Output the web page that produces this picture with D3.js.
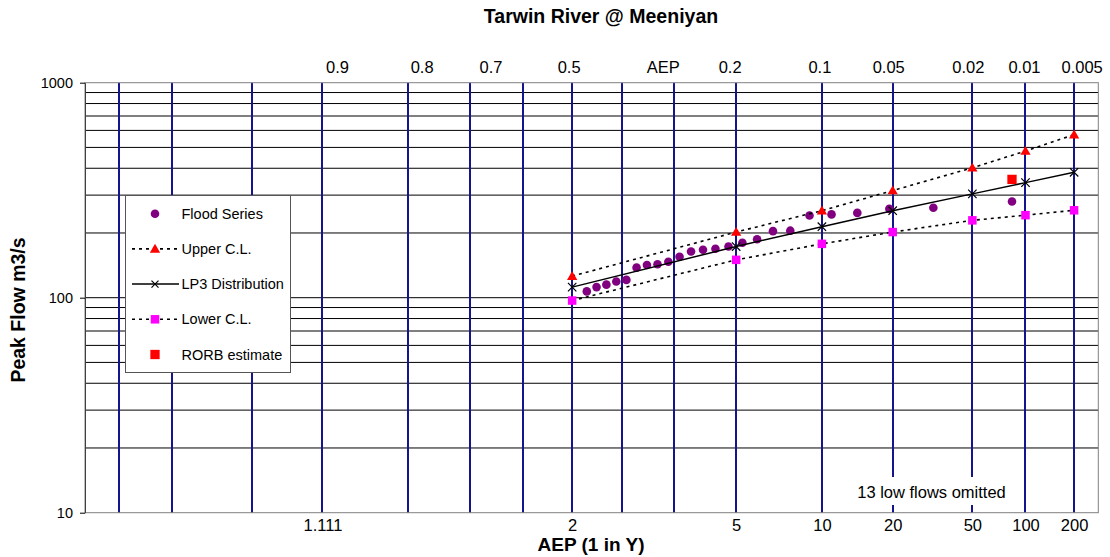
<!DOCTYPE html>
<html>
<head>
<meta charset="utf-8">
<script src="https://cdn.jsdelivr.net/npm/d3@7"></script>
<style>
  body { margin: 0; background: #fff; }
  svg { display: block; }
  text { font-family: "Liberation Sans", Arial, Helvetica, sans-serif; fill: #000; }
</style>
</head>
<body>
<svg id="chart" width="1110" height="557"></svg>
<script>
// ---- Data -------------------------------------------------------------
// Probability gridlines (annual exceedance probability)
const gridAEP = [0.99, 0.98, 0.95, 0.9, 0.8, 0.7, 0.6, 0.5, 0.4, 0.3, 0.2, 0.1, 0.05, 0.02, 0.01, 0.005];

// Labels along the top (AEP) and bottom (1 in Y years)
const topLabels = ["0.9", "0.8", "0.7", "0.5", "AEP", "0.2", "0.1", "0.05", "0.02", "0.01", "0.005"];
const topLabelAEP = [0.9, 0.8, 0.7, 0.5, 0.3, 0.2, 0.1, 0.05, 0.02, 0.01, 0.005];
const bottomLabels = ["1.111", "2", "5", "10", "20", "50", "100", "200"];
const bottomLabelAEP = [0.9, 0.5, 0.2, 0.1, 0.05, 0.02, 0.01, 0.005];

// Fitted distribution and confidence limits
const curveAEP = [0.5, 0.2, 0.1, 0.05, 0.02, 0.01, 0.005];
const lp3Flow = [112, 173, 214, 254, 304, 343, 383];
const upperFlow = [126, 202, 254, 315, 402, 481, 573];
const lowerFlow = [97, 150, 178, 202, 229, 242, 255];

// Annual flood series (plotting positions and peak flows, m3/s)
const floodAEP = [0.0120, 0.0319, 0.0518, 0.0717, 0.0916, 0.1116, 0.1315, 0.1514,
                  0.1713, 0.1912, 0.2112, 0.2311, 0.2510, 0.2709, 0.2908, 0.3108,
                  0.3307, 0.3506, 0.3705, 0.3904, 0.4104, 0.4303, 0.4502, 0.4701];
const floodFlow = [280, 262, 259, 248, 244, 241, 205, 204,
                   187, 180, 173, 169, 167, 164, 155, 147,
                   143, 142, 138, 121, 119, 115, 112, 107];

// Runoff-routing model estimate
const rorbAEP = [0.012];
const rorbFlow = [355];

// Flow axis
const majorFlowTicks = [10, 100, 1000];
const minorFlowLines = [20, 30, 40, 50, 60, 70, 80, 90, 200, 300, 400, 500, 600, 700, 800, 900];

// ---- Helpers ----------------------------------------------------------
// Inverse standard normal CDF (Acklam's rational approximation)
function normInv(p) {
  const a = [-3.969683028665376e+01, 2.209460984245205e+02, -2.759285104469687e+02,
             1.383577518672690e+02, -3.066479806614716e+01, 2.506628277459239e+00];
  const b = [-5.447609879822406e+01, 1.615858368580409e+02, -1.556989798598866e+02,
             6.680131188771972e+01, -1.328068155288572e+01];
  const c = [-7.784894002430293e-03, -3.223964580411365e-01, -2.400758277161838e+00,
             -2.549732539343734e+00, 4.374664141464968e+00, 2.938163982698783e+00];
  const d = [7.784695709041462e-03, 3.224671290700398e-01, 2.445134137142996e+00,
             3.754408661907416e+00];
  const pl = 0.02425, ph = 1 - pl;
  let q, r;
  if (p < pl) {
    q = Math.sqrt(-2 * Math.log(p));
    return (((((c[0]*q+c[1])*q+c[2])*q+c[3])*q+c[4])*q+c[5]) / ((((d[0]*q+d[1])*q+d[2])*q+d[3])*q+1);
  }
  if (p <= ph) {
    q = p - 0.5; r = q * q;
    return (((((a[0]*r+a[1])*r+a[2])*r+a[3])*r+a[4])*r+a[5])*q / (((((b[0]*r+b[1])*r+b[2])*r+b[3])*r+b[4])*r+1);
  }
  q = Math.sqrt(-2 * Math.log(1 - p));
  return -(((((c[0]*q+c[1])*q+c[2])*q+c[3])*q+c[4])*q+c[5]) / ((((d[0]*q+d[1])*q+d[2])*q+d[3])*q+1);
}
// Standard normal variate for an exceedance probability
const zOf = aep => normInv(1 - aep);

// ---- Layout -----------------------------------------------------------
const plot = { left: 85, right: 1098.3, top: 82.7, bottom: 512.7 };
const svg = d3.select("#chart");

const x = d3.scaleLinear().domain([-2.5, 2.7]).range([plot.left, plot.right]);
const y = d3.scaleLog().domain([10, 1000]).range([plot.bottom, plot.top]);
const px = aep => x(zOf(aep));

// Horizontal gridlines
svg.append("g").selectAll("line")
  .data(minorFlowLines.concat([100]))
  .join("line")
  .attr("x1", plot.left).attr("x2", plot.right)
  .attr("y1", d => y(d)).attr("y2", d => y(d))
  .attr("stroke", "#000").attr("stroke-width", 1);

// Vertical probability gridlines
svg.append("g").selectAll("line")
  .data(gridAEP)
  .join("line")
  .attr("x1", d => Math.round(px(d))).attr("x2", d => Math.round(px(d)))
  .attr("y1", plot.top).attr("y2", plot.bottom)
  .attr("stroke", "#14148c").attr("stroke-width", 2);

// Plot frame
svg.append("rect")
  .attr("x", plot.left).attr("y", plot.top)
  .attr("width", plot.right - plot.left).attr("height", plot.bottom - plot.top)
  .attr("fill", "none").attr("stroke", "#808080").attr("stroke-width", 1);

// Note about omitted low flows
svg.append("rect")
  .attr("x", 846).attr("y", 477).attr("width", 172).attr("height", 28)
  .attr("fill", "#fff");
svg.append("text")
  .attr("x", 931.5).attr("y", 497.5)
  .attr("text-anchor", "middle")
  .style("font-size", "16.5px")
  .text("13 low flows omitted");

// Flow axis (log)
const yAxis = svg.append("g")
  .attr("transform", `translate(${plot.left},0)`)
  .call(d3.axisLeft(y).tickValues(majorFlowTicks).tickFormat(d3.format("d"))
        .tickSize(5).tickSizeOuter(0).tickPadding(7));
yAxis.select(".domain").attr("stroke", "#404040");
yAxis.selectAll(".tick line").attr("stroke", "#000");
yAxis.selectAll("text")
  .style("font-size", "14.5px")
  .style("font-family", "'Liberation Sans', Arial, sans-serif");

// Bottom labels (return period, 1 in Y)
const xAxis = svg.append("g")
  .attr("transform", `translate(0,${plot.bottom})`)
  .call(d3.axisBottom(x).tickValues(bottomLabelAEP.map(zOf))
        .tickFormat((d, i) => bottomLabels[i]).tickSize(0).tickPadding(7));
xAxis.select(".domain").remove();
xAxis.selectAll("text")
  .style("font-size", "16.5px")
  .style("font-family", "'Liberation Sans', Arial, sans-serif");

// Top labels (AEP)
const topShift = [15, 14, 21, -3, -11, -6, -2, -4, -4, -1, 8];
svg.append("g").selectAll("text")
  .data(topLabels)
  .join("text")
  .attr("x", (d, i) => px(topLabelAEP[i]) + topShift[i])
  .attr("y", 73)
  .attr("text-anchor", "middle")
  .style("font-size", "16.5px")
  .text(d => d);

// Titles
svg.append("text")
  .attr("x", 601).attr("y", 23)
  .attr("text-anchor", "middle")
  .style("font-size", "19.5px").style("font-weight", "bold")
  .text("Tarwin River @ Meeniyan");
svg.append("text")
  .attr("x", 591).attr("y", 551)
  .attr("text-anchor", "middle")
  .style("font-size", "19px").style("font-weight", "bold")
  .text("AEP (1 in Y)");
svg.append("text")
  .attr("transform", "translate(25,310) rotate(-90)")
  .attr("text-anchor", "middle")
  .style("font-size", "19.5px").style("font-weight", "bold")
  .text("Peak Flow m3/s");

// ---- Series -----------------------------------------------------------
const line = d3.line().x(d => px(d[0])).y(d => y(d[1]));
const zipCurve = vals => curveAEP.map((a, i) => [a, vals[i]]);

const triangle = d3.symbol().type(d3.symbolTriangle).size(46)();
const drawTriangle = (g, cx, cy) => g.append("path").attr("d", triangle)
  .attr("transform", `translate(${cx},${cy + 0.8})`).attr("fill", "#ff0000");
const drawSquare = (g, cx, cy, s, fill) => g.append("rect")
  .attr("x", cx - s / 2).attr("y", cy - s / 2).attr("width", s).attr("height", s).attr("fill", fill);
const drawCross = (g, cx, cy, h) => g.append("path")
  .attr("d", `M${cx - h},${cy - h}L${cx + h},${cy + h}M${cx - h},${cy + h}L${cx + h},${cy - h}`)
  .attr("stroke", "#000").attr("stroke-width", 1.2).attr("fill", "none");

const series = svg.append("g");

// Flood series
series.append("g").selectAll("circle")
  .data(floodAEP.map((a, i) => [a, floodFlow[i]]))
  .join("circle")
  .attr("cx", d => px(d[0])).attr("cy", d => y(d[1])).attr("r", 4.3)
  .attr("fill", "#800080");

// Upper confidence limit
series.append("path").datum(zipCurve(upperFlow)).attr("d", line)
  .attr("fill", "none").attr("stroke", "#000").attr("stroke-width", 1.6)
  .attr("stroke-dasharray", "3,4");
zipCurve(upperFlow).forEach(d => drawTriangle(series, px(d[0]), y(d[1])));

// LP3 distribution
series.append("path").datum(zipCurve(lp3Flow)).attr("d", line)
  .attr("fill", "none").attr("stroke", "#000").attr("stroke-width", 1.5);
zipCurve(lp3Flow).forEach(d => drawCross(series, px(d[0]), y(d[1]), 4.2));

// Lower confidence limit
series.append("path").datum(zipCurve(lowerFlow)).attr("d", line)
  .attr("fill", "none").attr("stroke", "#000").attr("stroke-width", 1.6)
  .attr("stroke-dasharray", "3,4");
zipCurve(lowerFlow).forEach(d => drawSquare(series, px(d[0]), y(d[1]), 8.5, "#ff00ff"));

// RORB estimate
rorbAEP.forEach((a, i) => drawSquare(series, px(a), y(rorbFlow[i]), 9.3, "#ff0000"));

// ---- Legend -----------------------------------------------------------
const legend = svg.append("g");
legend.append("rect")
  .attr("x", 125.5).attr("y", 195.5).attr("width", 165).attr("height", 177)
  .attr("fill", "#fff").attr("stroke", "#555").attr("stroke-width", 1);
const legendRows = ["Flood Series", "Upper C.L.", "LP3 Distribution", "Lower C.L.", "RORB estimate"];
const rowY = i => 213.7 + i * 35.2;
const symX = 155;
legendRows.forEach((name, i) => {
  const cy = rowY(i);
  if (name === "Upper C.L." || name === "Lower C.L.") {
    legend.append("line").attr("x1", 132).attr("x2", 179).attr("y1", cy).attr("y2", cy)
      .attr("stroke", "#000").attr("stroke-width", 1.6).attr("stroke-dasharray", "3,4");
  }
  if (name === "LP3 Distribution") {
    legend.append("line").attr("x1", 132).attr("x2", 179).attr("y1", cy).attr("y2", cy)
      .attr("stroke", "#000").attr("stroke-width", 1.5);
  }
  if (name === "Flood Series") legend.append("circle").attr("cx", symX).attr("cy", cy).attr("r", 4.3).attr("fill", "#800080");
  if (name === "Upper C.L.") drawTriangle(legend, symX, cy);
  if (name === "LP3 Distribution") drawCross(legend, symX, cy, 3.5);
  if (name === "Lower C.L.") drawSquare(legend, symX, cy, 8.5, "#ff00ff");
  if (name === "RORB estimate") drawSquare(legend, symX, cy, 9.3, "#ff0000");
  legend.append("text").attr("x", 181.5).attr("y", cy + 5)
    .style("font-size", "14.5px").text(name);
});
</script>
</body>
</html>
